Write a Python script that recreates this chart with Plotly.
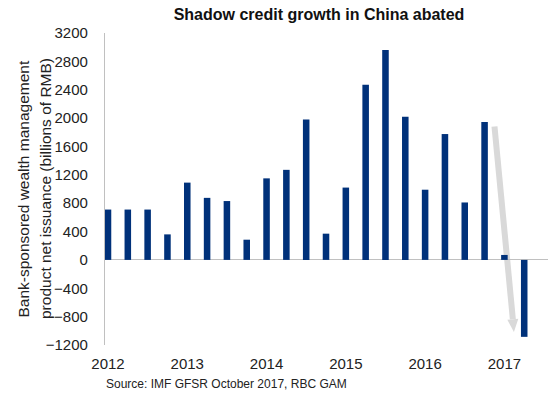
import plotly.graph_objects as go

quarters = list(range(22))
values = [710, 710, 710, 360, 1090, 875, 830, 285, 1150, 1270, 1980, 370,
          1020, 2470, 2960, 2020, 990, 1775, 810, 1945, 70, -1085]
tick_pos = [0, 4, 8, 12, 16, 20]
tick_text = ["2012", "2013", "2014", "2015", "2016", "2017"]
y_ticks = [-1200, -800, -400, 0, 400, 800, 1200, 1600, 2000, 2400, 2800, 3200]
y_title_lines = ["Bank-sponsored wealth management", "product net issuance (billions of RMB)"]

font_family = "Liberation Sans, Arial, sans-serif"

fig = go.Figure()
fig.add_trace(go.Bar(x=quarters, y=values, width=0.33,
                     marker=dict(color="#00317A", line=dict(width=0))))

# grey trend arrow drawn beneath the bars (shaft + head)
arrow_color = "#d9d9d9"
fig.add_shape(type="line", x0=19.5, y0=1881, x1=20.427, y1=-836, xref="x", yref="y",
              line=dict(color=arrow_color, width=6), layer="below")
fig.add_shape(type="path", path="M 20.703,-829 L 20.48,-1015 L 20.15,-844 Z",
              xref="x", yref="y", fillcolor=arrow_color, line=dict(width=0), layer="below")

for xp, line in zip([-0.1862, -0.1354], y_title_lines):
    fig.add_annotation(text=line, xref="paper", yref="paper", x=xp, y=0.5, textangle=-90,
                       showarrow=False, font=dict(size=15.5, color="#222"),
                       xanchor="center", yanchor="middle")

fig.add_annotation(text="Source: IMF GFSR October 2017, RBC GAM", xref="paper", yref="paper",
                   x=-0.002, y=-0.126, xanchor="left", yanchor="middle", showarrow=False,
                   font=dict(size=12, color="#222"))

fig.update_layout(
    width=557, height=398,
    margin=dict(l=105, r=9, t=33, b=53),
    paper_bgcolor="white", plot_bgcolor="white",
    font=dict(family=font_family, color="#222"),
    title=dict(text="<b>Shadow credit growth in China abated</b>", x=319/557, xanchor="center",
               y=1 - 14/398, yanchor="middle", font=dict(size=16, color="#111")),
    showlegend=False,
    xaxis=dict(range=[-0.151, 22.2], tickvals=tick_pos, ticktext=tick_text,
               showgrid=False, showline=False, zeroline=False, ticks="",
               tickfont=dict(size=15), ticklabelstandoff=8),
    yaxis=dict(range=[-1200, 3200], tickvals=y_ticks, showgrid=False,
               showline=True, linecolor="#c0c0c0", linewidth=1.3,
               zeroline=True, zerolinecolor="#c0c0c0", zerolinewidth=1.3,
               ticks="", tickfont=dict(size=15), ticklabelstandoff=13),
)

fig.write_html("out.html", config={"displayModeBar": False},
               post_script="document.body.style.margin='0';document.body.style.padding='0';")
